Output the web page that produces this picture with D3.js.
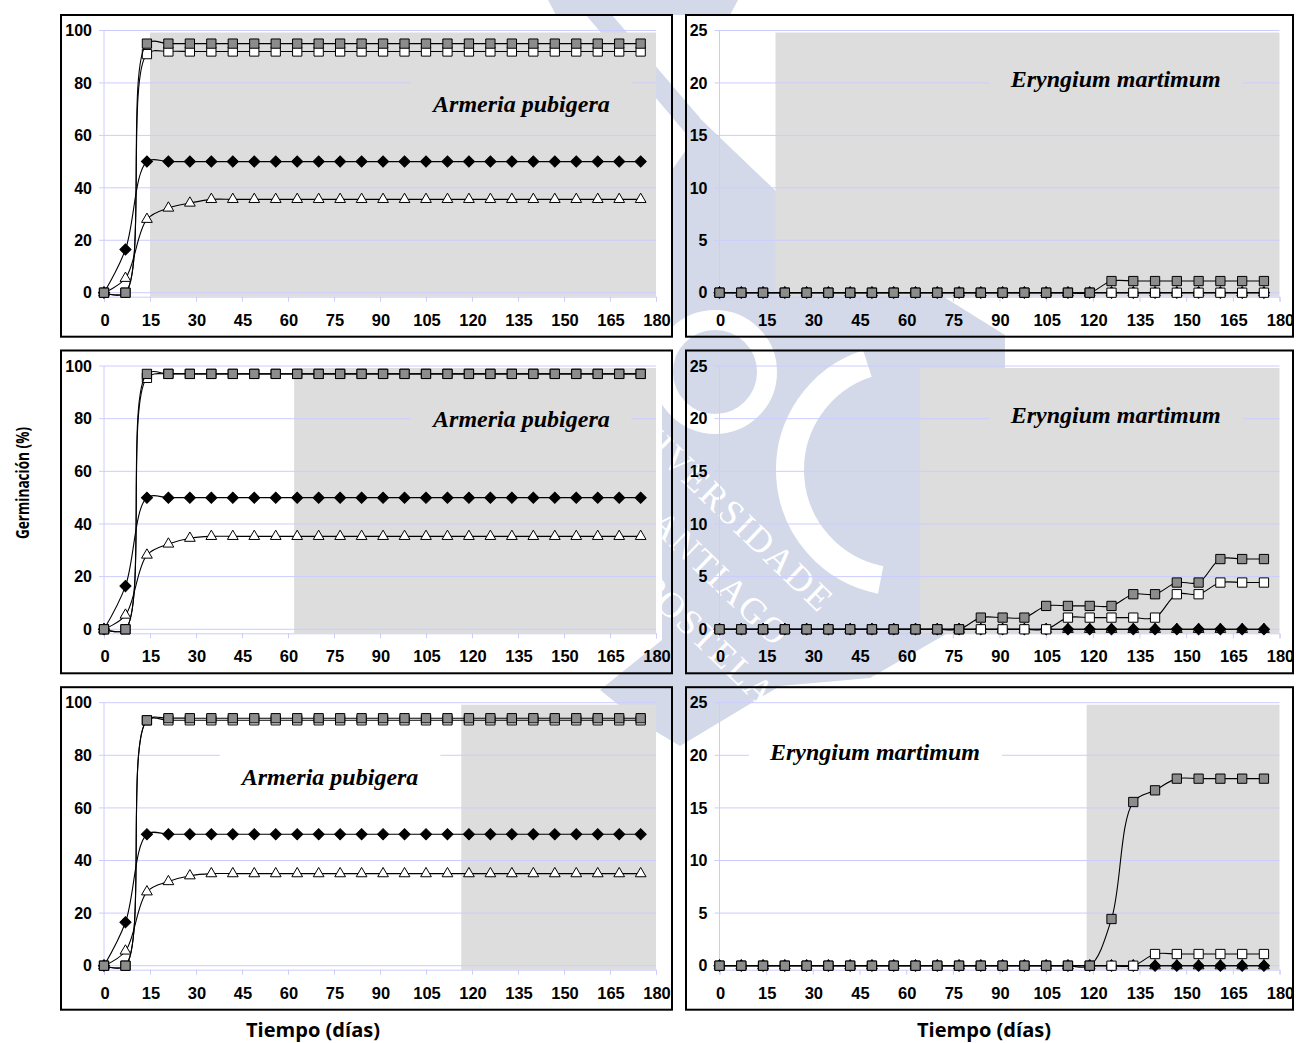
<!DOCTYPE html>
<html>
<head>
<meta charset="utf-8">
<script src="https://cdn.jsdelivr.net/npm/d3@7"></script>
<style>
  body { margin: 0; background: #fff; }
  svg { display: block; }
</style>
</head>
<body>
<svg id="chart" width="1296" height="1043"></svg>
<script>
// Sampling days (x values shared by every series)
const days = [0,7,14,21,28,35,42,49,56,63,70,77,84,91,98,105,112,119,126,133,140,147,154,161,168,175];

// Armeria pubigera, cumulative germination (%)
const armeriaA_gray     = [0,0,95,95,95,95,95,95,95,95,95,95,95,95,95,95,95,95,95,95,95,95,95,95,95,95];
const armeriaA_white    = [0,0,91,92,92,92,92,92,92,92,92,92,92,92,92,92,92,92,92,92,92,92,92,92,92,92];
const armeriaA_diamond  = [0,16.5,50,50,50,50,50,50,50,50,50,50,50,50,50,50,50,50,50,50,50,50,50,50,50,50];
const armeriaA_triangle = [0,5.5,28,32.3,34.2,35.6,35.6,35.6,35.6,35.6,35.6,35.6,35.6,35.6,35.6,35.6,35.6,35.6,35.6,35.6,35.6,35.6,35.6,35.6,35.6,35.6];

const armeriaB_gray     = [0,0,97,97,97,97,97,97,97,97,97,97,97,97,97,97,97,97,97,97,97,97,97,97,97,97];
const armeriaB_white    = [0,0,95.5,97,97,97,97,97,97,97,97,97,97,97,97,97,97,97,97,97,97,97,97,97,97,97];
const armeriaB_diamond  = [0,16.4,50,50,50,50,50,50,50,50,50,50,50,50,50,50,50,50,50,50,50,50,50,50,50,50];
const armeriaB_triangle = [0,5.4,28.2,32.4,34.6,35.3,35.3,35.3,35.3,35.3,35.3,35.3,35.3,35.3,35.3,35.3,35.3,35.3,35.3,35.3,35.3,35.3,35.3,35.3,35.3,35.3];

const armeriaC_gray     = [0,0,93.3,94.1,94.1,94.1,94.1,94.1,94.1,94.1,94.1,94.1,94.1,94.1,94.1,94.1,94.1,94.1,94.1,94.1,94.1,94.1,94.1,94.1,94.1,94.1];
const armeriaC_white    = [0,0,93.3,93.3,93.3,93.3,93.3,93.3,93.3,93.3,93.3,93.3,93.3,93.3,93.3,93.3,93.3,93.3,93.3,93.3,93.3,93.3,93.3,93.3,93.3,93.3];
const armeriaC_diamond  = [0,16.5,50,50,50,50,50,50,50,50,50,50,50,50,50,50,50,50,50,50,50,50,50,50,50,50];
const armeriaC_triangle = [0,5.6,28.1,32,34.2,35,35,35,35,35,35,35,35,35,35,35,35,35,35,35,35,35,35,35,35,35];

// Eryngium martimum, cumulative germination (%)
const eryngiumA_gray     = [0,0,0,0,0,0,0,0,0,0,0,0,0,0,0,0,0,0,1.11,1.11,1.11,1.11,1.11,1.11,1.11,1.11];
const eryngiumA_white    = [0,0,0,0,0,0,0,0,0,0,0,0,0,0,0,0,0,0,0,0,0,0,0,0,0,0];
const eryngiumA_diamond  = [0,0,0,0,0,0,0,0,0,0,0,0,0,0,0,0,0,0,0,0,0,0,0,0,0,0];
const eryngiumA_triangle = [0,0,0,0,0,0,0,0,0,0,0,0,0,0,0,0,0,0,0,0,0,0,0,0,0,0];

const eryngiumB_gray     = [0,0,0,0,0,0,0,0,0,0,0,0,1.11,1.11,1.11,2.22,2.22,2.22,2.22,3.33,3.33,4.44,4.44,6.67,6.67,6.67];
const eryngiumB_white    = [0,0,0,0,0,0,0,0,0,0,0,0,0,0,0,0,1.11,1.11,1.11,1.11,1.11,3.33,3.33,4.44,4.44,4.44];
const eryngiumB_diamond  = [0,0,0,0,0,0,0,0,0,0,0,0,0,0,0,0,0,0,0,0,0,0,0,0,0,0];
const eryngiumB_triangle = [0,0,0,0,0,0,0,0,0,0,0,0,0,0,0,0,0,0,0,0,0,0,0,0,0,0];

const eryngiumC_gray     = [0,0,0,0,0,0,0,0,0,0,0,0,0,0,0,0,0,0,4.44,15.56,16.67,17.78,17.78,17.78,17.78,17.78];
const eryngiumC_white    = [0,0,0,0,0,0,0,0,0,0,0,0,0,0,0,0,0,0,0,0,1.11,1.11,1.11,1.11,1.11,1.11];
const eryngiumC_diamond  = [0,0,0,0,0,0,0,0,0,0,0,0,0,0,0,0,0,0,0,0,0,0,0,0,0,0];
const eryngiumC_triangle = [0,0,0,0,0,0,0,0,0,0,0,0,0,0,0,0,0,0,0,0,0,0,0,0,0,0];

// Axis ticks
const xTicks = [0,15,30,45,60,75,90,105,120,135,150,165,180];
const armeriaYTicks = [0,20,40,60,80,100];
const eryngiumYTicks = [0,5,10,15,20,25];

// Day at which the shaded period begins in each panel
const armeriaShadeStart  = [15, 62, 116.5];
const eryngiumShadeStart = [18, 64.5, 118];

// Texts
const speciesNames = ["Armeria pubigera", "Eryngium martimum"];
const xTitle = "Tiempo (días)";
const yTitle = "Germinación (%)";
const sealLines = ["UNIVERSIDADE", "DE SANTIAGO", "DE COMPOSTELA"];

// ---------------------------------------------------------------
const svg = d3.select("#chart");

const SHADE = "#dddddd";
const GRID = "#ccccff";
const SEAL = "#d3d9e9";

// University seal in the background (under the charts, hidden by the shaded areas)
const seal = svg.append("g");
const polyLine = d3.line().curve(d3.curveLinearClosed);
seal.append("path")
  .attr("d", polyLine([[548,0],[738,0],[730,15],[556,15]]))
  .attr("fill", SEAL);
seal.append("path")
  .attr("d", polyLine([[586,15],[612,15],[700,118],[688,136]]))
  .attr("fill", SEAL);
seal.append("path")
  .attr("d", polyLine([[686,105],[780,195],[1005,335],[1005,600],[870,678],[780,686],
                       [680,746],[640,722],[600,690],[662,640],[662,350],[672,330],
                       [672,170],[686,150]]))
  .attr("fill", SEAL);
// ring and large "C" of the emblem
seal.append("circle").attr("cx", 715).attr("cy", 372).attr("r", 52)
  .attr("fill", "none").attr("stroke", "#fff").attr("stroke-width", 20);
const cArc = d3.path();
cArc.arc(902, 470, 112, -108 * Math.PI / 180, 101 * Math.PI / 180, true);
seal.append("path").attr("d", cArc.toString())
  .attr("fill", "none").attr("stroke", "#fff").attr("stroke-width", 28);
// seal lettering
[[828, 606], [784, 640], [770, 700]].forEach((pos, i) => {
  seal.append("text")
    .attr("transform", `translate(${pos[0]},${pos[1]}) rotate(44)`)
    .attr("text-anchor", "end")
    .attr("dominant-baseline", "central")
    .attr("font-family", "'Liberation Serif', 'Times New Roman', serif")
    .attr("font-size", 36).attr("letter-spacing", 2)
    .attr("fill", "#fff")
    .text(sealLines[i]);
});

const cols = [
  { box: [61, 672],   plot: [104, 656] },
  { box: [686, 1293], plot: [719.5, 1279.5] }
];
const rows = [
  { top: 30.5,  zero: 292.7 },
  { top: 366,   zero: 629.3 },
  { top: 702.7, zero: 965.7 }
];

const panels = [
  { c:0, r:0, yMax:100, yTicks:armeriaYTicks, shade:armeriaShadeStart[0],
    s:[armeriaA_triangle, armeriaA_diamond, armeriaA_white, armeriaA_gray],
    label:speciesNames[0], lx:107.3, ly:69.0, lbox:SHADE },
  { c:0, r:1, yMax:100, yTicks:armeriaYTicks, shade:armeriaShadeStart[1],
    s:[armeriaB_triangle, armeriaB_diamond, armeriaB_white, armeriaB_gray],
    label:speciesNames[0], lx:107.3, ly:76.8, lbox:SHADE },
  { c:0, r:2, yMax:100, yTicks:armeriaYTicks, shade:armeriaShadeStart[2],
    s:[armeriaC_triangle, armeriaC_diamond, armeriaC_white, armeriaC_gray],
    label:speciesNames[0], lx:44.9, ly:68.7, lbox:"#ffffff" },
  { c:1, r:0, yMax:25, yTicks:eryngiumYTicks, shade:eryngiumShadeStart[0],
    s:[eryngiumA_triangle, eryngiumA_diamond, eryngiumA_white, eryngiumA_gray],
    label:speciesNames[1], lx:93.6, ly:19.6, lbox:SHADE },
  { c:1, r:1, yMax:25, yTicks:eryngiumYTicks, shade:eryngiumShadeStart[1],
    s:[eryngiumB_triangle, eryngiumB_diamond, eryngiumB_white, eryngiumB_gray],
    label:speciesNames[1], lx:93.6, ly:19.6, lbox:SHADE },
  { c:1, r:2, yMax:25, yTicks:eryngiumYTicks, shade:eryngiumShadeStart[2],
    s:[eryngiumC_triangle, eryngiumC_diamond, eryngiumC_white, eryngiumC_gray],
    label:speciesNames[1], lx:16.2, ly:19.55, lbox:"#ffffff" }
];

// marker symbols: triangle, diamond, white square, gray square
const markerDefs = [
  { type: d3.symbolTriangle, size: 50, fill: "#ffffff", rot: 0 },
  { type: d3.symbolSquare,   size: 62, fill: "#000000", rot: 45 },
  { type: d3.symbolSquare,   size: 86, fill: "#ffffff", rot: 0 },
  { type: d3.symbolSquare,   size: 86, fill: "#8c8c8c", rot: 0 }
];

panels.forEach(p => {
  const col = cols[p.c], row = rows[p.r];
  const x = d3.scaleLinear().domain([0, 180]).range(col.plot);
  const y = d3.scaleLinear().domain([0, p.yMax]).range([row.zero, row.top]);
  const g = svg.append("g");

  // shaded period
  g.append("rect")
    .attr("x", x(p.shade)).attr("y", row.top + 2)
    .attr("width", col.plot[1] - x(p.shade))
    .attr("height", row.zero + 4 - (row.top + 2))
    .attr("fill", SHADE);

  // horizontal gridlines
  g.selectAll(".grid").data(p.yTicks).enter().append("line")
    .attr("x1", col.plot[0] - 5).attr("x2", col.plot[1])
    .attr("y1", d => y(d)).attr("y2", d => y(d))
    .attr("stroke", GRID).attr("stroke-width", 1);

  // vertical axis line
  g.append("line")
    .attr("x1", col.plot[0]).attr("x2", col.plot[0])
    .attr("y1", row.top).attr("y2", row.zero + 4)
    .attr("stroke", GRID).attr("stroke-width", 1);

  // x axis with ticks below
  const xAxis = d3.axisBottom(x).tickValues(xTicks).tickSize(5).tickFormat("");
  const ax = g.append("g").attr("transform", `translate(0,${row.zero + 4})`).call(xAxis);
  ax.select(".domain").attr("stroke", GRID);
  ax.selectAll(".tick line").attr("stroke", GRID);

  // tick labels
  g.selectAll(".ylab").data(p.yTicks).enter().append("text")
    .attr("x", col.plot[0] - 12).attr("y", d => y(d))
    .attr("dy", "0.36em")
    .attr("text-anchor", "end")
    .attr("font-family", "'Liberation Sans', Arial, sans-serif")
    .attr("font-weight", "bold").attr("font-size", 16)
    .text(d => d);
  g.selectAll(".xlab").data(xTicks).enter().append("text")
    .attr("x", d => x(d) + 1).attr("y", row.zero + 33)
    .attr("text-anchor", "middle")
    .attr("font-family", "'Liberation Sans', Arial, sans-serif")
    .attr("font-weight", "bold").attr("font-size", 16.5)
    .text(d => d);

  // species label on its own box
  const lb = g.append("rect").attr("fill", p.lbox);
  const lt = g.append("text")
    .attr("x", x(p.lx)).attr("y", y(p.ly))
    .attr("font-family", "'Liberation Serif', 'Times New Roman', serif")
    .attr("font-style", "italic").attr("font-weight", "bold")
    .attr("font-size", 24)
    .text(p.label);
  const bb = lt.node().getBBox();
  lb.attr("x", bb.x - 20).attr("y", bb.y - 12)
    .attr("width", bb.width + 42).attr("height", bb.height + 16);

  // series: line then markers, in drawing order
  const line = d3.line()
    .x((d, i) => x(days[i]))
    .y(d => y(d))
    .curve(d3.curveCatmullRom.alpha(0.5));
  p.s.forEach((vals, k) => {
    const m = markerDefs[k];
    g.append("path").datum(vals)
      .attr("d", line)
      .attr("fill", "none").attr("stroke", "#000").attr("stroke-width", 1.1);
    g.selectAll(null).data(vals).enter().append("path")
      .attr("d", d3.symbol().type(m.type).size(m.size))
      .attr("transform", (d, i) => `translate(${x(days[i])},${y(d)}) rotate(${m.rot})`)
      .attr("fill", m.fill).attr("stroke", "#000").attr("stroke-width", 1);
  });

  // panel frame
  g.append("rect")
    .attr("x", col.box[0]).attr("y", row.top - 15.5)
    .attr("width", col.box[1] - col.box[0])
    .attr("height", row.zero + 44 - (row.top - 15.5))
    .attr("fill", "none").attr("stroke", "#000").attr("stroke-width", 2);
});

// axis titles
svg.append("text")
  .attr("transform", "translate(29,483) rotate(-90)")
  .attr("text-anchor", "middle")
  .attr("font-family", "'Open Sans', 'Noto Sans', sans-serif")
  .attr("font-weight", "bold").attr("font-size", 18)
  .attr("textLength", 112).attr("lengthAdjust", "spacingAndGlyphs")
  .text(yTitle);
[313, 984].forEach(cx => {
  svg.append("text")
    .attr("x", cx).attr("y", 1037)
    .attr("text-anchor", "middle")
    .attr("font-family", "'Open Sans', 'Noto Sans', sans-serif")
    .attr("font-weight", "bold").attr("font-size", 19)
    .attr("textLength", 134).attr("lengthAdjust", "spacingAndGlyphs")
    .text(xTitle);
});
</script>
</body>
</html>
